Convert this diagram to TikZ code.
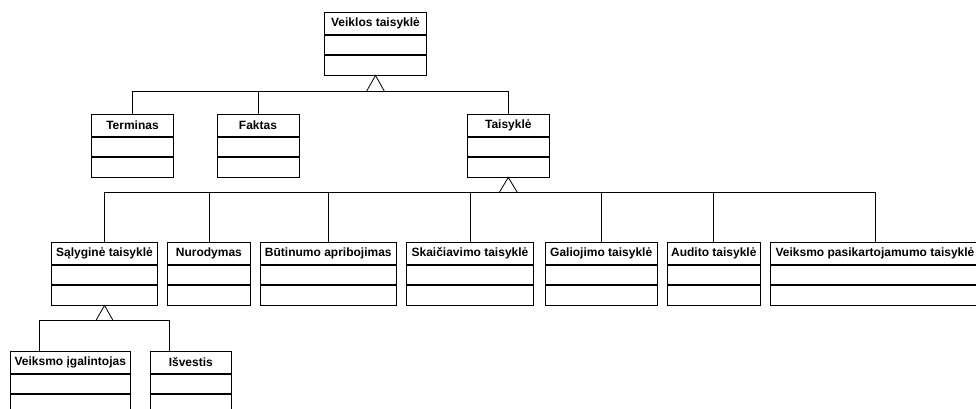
\documentclass[tikz,border=0pt]{standalone}
\usepackage{fontspec}
\setmainfont{Liberation Sans}
\begin{document}
\begin{tikzpicture}[x=1pt,y=-1pt,
  line width=0.8pt,
  hdr/.style={draw, anchor=north, minimum height=22pt, inner sep=0pt,
    font=\fontsize{12}{14}\selectfont\bfseries},
  cmp/.style={draw, anchor=north, minimum height=19.5pt, inner sep=0pt},
  gen/.style={draw, fill=white, line join=miter},
  link/.style={draw}]
\useasboundingbox (0,0) rectangle (976,408);
\clip (0,0) rectangle (976,408);

% class box: header with name, then two empty compartments
\newcommand{\umlbox}[5]{% name, centre x, top y, width, label
  \node[hdr, minimum width=#4pt] (#1) at (#2,#3) {#5};
  \node[cmp, minimum width=#4pt] (#1-a) at (#1.south) {};
  \node[cmp, minimum width=#4pt] (#1-b) at (#1-a.south) {};
}

% top level
\umlbox{vt}{375.5}{12}{102}{Veiklos taisyklė}

% first level
\umlbox{term}{132.5}{114}{81.5}{Terminas}
\umlbox{fakt}{258}{114}{82}{Faktas}
\umlbox{tais}{508.3}{114}{82}{Taisyklė}

% second level
\umlbox{salyg}{104.5}{242}{105.6}{Sąlyginė taisyklė}
\umlbox{nuro}{208.9}{242}{82.3}{Nurodymas}
\umlbox{butin}{328.3}{242}{136.7}{Būtinumo apribojimas}
\umlbox{skaic}{470}{242}{126.6}{Skaičiavimo taisyklė}
\umlbox{galio}{601.2}{242}{112.3}{Galiojimo taisyklė}
\umlbox{audit}{713.8}{242}{92.3}{Audito taisyklė}
\umlbox{pasik}{875}{242}{210}{Veiksmo pasikartojamumo taisyklė}

% third level
\umlbox{igal}{70.3}{351}{120.7}{Veiksmo įgalintojas}
\umlbox{isve}{190.8}{351}{81.7}{Išvestis}

% generalization bases
\coordinate (g1) at ([yshift=-16pt]vt-b.south);
\coordinate (g2) at ([yshift=-15pt]tais-b.south);
\coordinate (g3) at ([yshift=-15pt]salyg-b.south);

% connectors to Veiklos taisyklė
\draw[link] (term.north) |- (g1);
\draw[link] (fakt.north) |- (g1);
\draw[link] (tais.north) |- (g1);

% connectors to Taisyklė
\draw[link] (salyg.north) |- (g2);
\draw[link] (nuro.north) |- (g2);
\draw[link] (butin.north) |- (g2);
\draw[link] (skaic.north) |- (g2);
\draw[link] (galio.north) |- (g2);
\draw[link] (audit.north) |- (g2);
\draw[link] (pasik.north) |- (g2);

% connectors to Sąlyginė taisyklė
\draw[link] ([xshift=30pt]igal.north west) |- (g3);
\draw[link] ([xshift=20pt]isve.north west) |- (g3);

% hollow triangle heads
\draw[gen] (vt-b.south) -- ([xshift=-9pt]g1) -- ([xshift=9pt]g1) -- cycle;
\draw[gen] (tais-b.south) -- ([xshift=-9pt]g2) -- ([xshift=9pt]g2) -- cycle;
\draw[gen] (salyg-b.south) -- ([xshift=-8.5pt]g3) -- ([xshift=8.5pt]g3) -- cycle;
\end{tikzpicture}
\end{document}
